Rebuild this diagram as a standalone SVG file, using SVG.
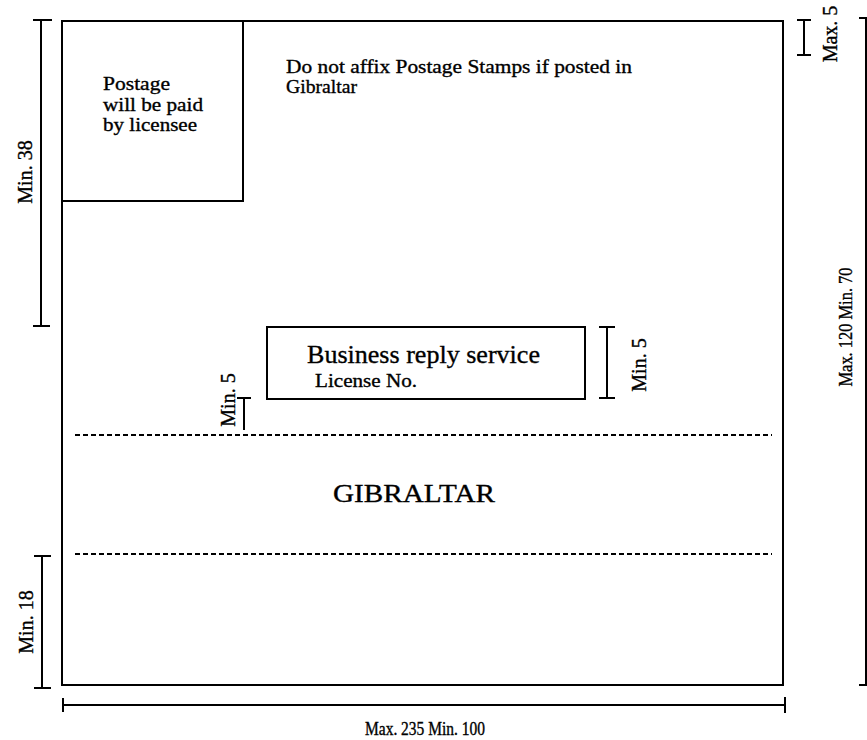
<svg xmlns="http://www.w3.org/2000/svg" width="867" height="740" viewBox="0 0 867 740">
<style>
.ln{stroke:#000;stroke-width:2;fill:none}
.dash{stroke:#000;stroke-width:2;stroke-dasharray:5,3;fill:none}
.t{font-family:"Liberation Serif","Times New Roman",serif;fill:#000;stroke:#000;stroke-width:0.35}
</style>
<rect width="867" height="740" fill="#fff"/>
<g id="envelope">
<rect class="ln" x="62" y="21" width="721" height="664"/>
</g>
<g id="stamp-box">
<path class="ln" d="M62,201 H243 V21"/>
<text class="t" font-size="19" x="103" y="90" textLength="67" lengthAdjust="spacingAndGlyphs">Postage</text>
<text class="t" font-size="19" x="103" y="111" textLength="100" lengthAdjust="spacingAndGlyphs">will be paid</text>
<text class="t" font-size="19" x="103" y="131" textLength="94" lengthAdjust="spacingAndGlyphs">by licensee</text>
</g>
<g id="notice">
<text class="t" font-size="19" x="286" y="73" textLength="346" lengthAdjust="spacingAndGlyphs">Do not affix Postage Stamps if posted in</text>
<text class="t" font-size="19" x="286" y="93" textLength="71" lengthAdjust="spacingAndGlyphs">Gibraltar</text>
</g>
<g id="reply-box">
<rect class="ln" x="267" y="327" width="318" height="72"/>
<text class="t" font-size="26" x="307" y="363" textLength="233" lengthAdjust="spacingAndGlyphs">Business reply service</text>
<text class="t" font-size="19" x="315" y="387" textLength="102" lengthAdjust="spacingAndGlyphs">License No.</text>
</g>
<g id="address-zone">
<line class="dash" x1="75" y1="435" x2="772" y2="435"/>
<line class="dash" x1="75" y1="554" x2="772" y2="554"/>
<text class="t" font-size="25" x="333" y="502" textLength="162" lengthAdjust="spacingAndGlyphs">GIBRALTAR</text>
</g>
<g id="dimensions">
<path class="ln" d="M41,20 V326 M33,20 H52 M33,326 H50"/>
<text class="t" font-size="20" transform="translate(32,172) rotate(-90)" text-anchor="middle">Min. 38</text>
<path class="ln" d="M804,20 V55 M797,20 H811 M797,55 H811"/>
<text class="t" font-size="20" transform="translate(837,34) rotate(-90)" text-anchor="middle">Max. 5</text>
<path class="ln" d="M607,327 V398 M599,327 H615 M599,398 H615"/>
<text class="t" font-size="20" transform="translate(646,365) rotate(-90)" text-anchor="middle">Min. 5</text>
<path class="ln" d="M244,398 V430 M237,398 H251"/>
<text class="t" font-size="20" transform="translate(235,400) rotate(-90)" text-anchor="middle">Min. 5</text>
<path class="ln" d="M42,556 V688 M34,556 H51 M34,688 H51"/>
<text class="t" font-size="20" transform="translate(33,622) rotate(-90)" text-anchor="middle">Min. 18</text>
<path class="ln" d="M63,705 H785 M63,698 V712 M785,697 V713"/>
<text class="t" font-size="18" x="365" y="735" textLength="120" lengthAdjust="spacingAndGlyphs">Max. 235 Min. 100</text>
<path class="ln" d="M866,18 V685 M859,18 H867 M859,685 H867" stroke-width="1.5"/>
<text class="t" font-size="19" transform="translate(852,327) rotate(-90)" text-anchor="middle" textLength="119" lengthAdjust="spacingAndGlyphs">Max. 120 Min. 70</text>
</g>
</svg>
